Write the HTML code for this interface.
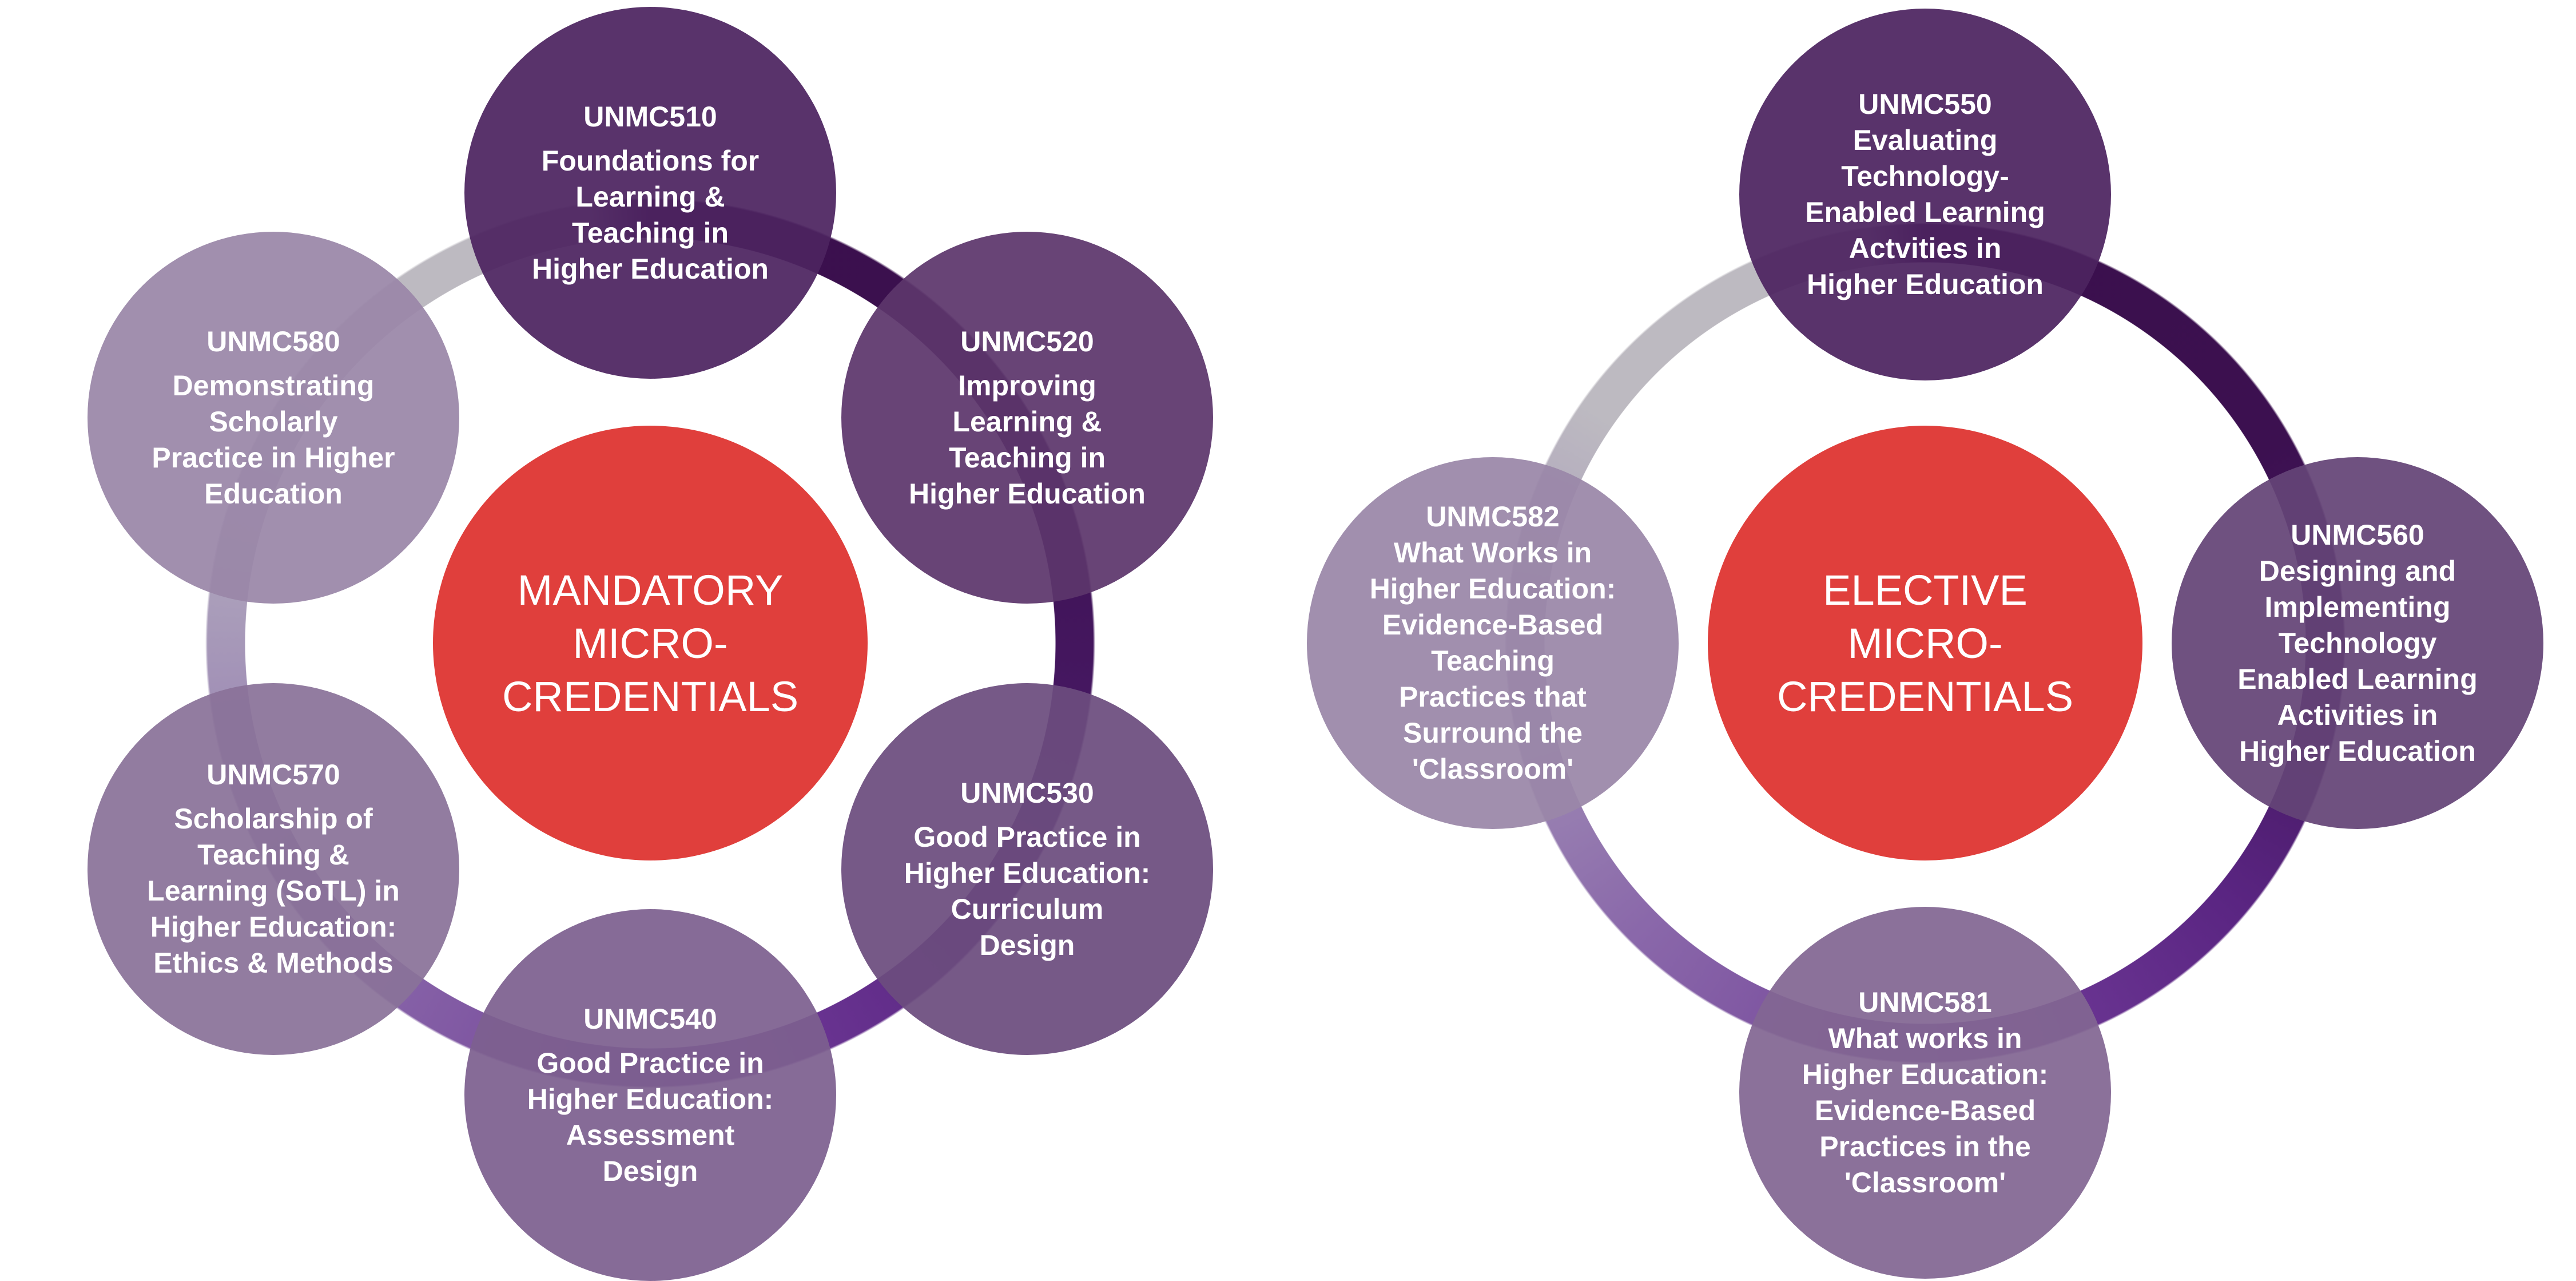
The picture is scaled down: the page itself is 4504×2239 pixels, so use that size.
<!DOCTYPE html>
<html><head><meta charset="utf-8"><style>
html,body{margin:0;padding:0;background:#fff;}
body{width:4504px;height:2173px;position:relative;overflow:hidden;font-family:"Liberation Sans",Arial,sans-serif;}
.ring{position:absolute;border-radius:50%;
background:conic-gradient(from 0deg,#3a0f4c 0deg,#3c1050 60deg,#461862 100deg,#5a2582 130deg,#6a3592 160deg,#8a68aa 225deg,#a596b8 268deg,#bdbac1 305deg,#bdbac1 352deg,#3a0f4c 360deg);
-webkit-mask:radial-gradient(circle closest-side,transparent calc(100% - 70px),#000 calc(100% - 69px),#000 99.5%,transparent 100%);
mask:radial-gradient(circle closest-side,transparent calc(100% - 70px),#000 calc(100% - 69px),#000 99.5%,transparent 100%);}
.c{position:absolute;width:650px;height:650px;border-radius:50%;display:flex;align-items:center;justify-content:center;text-align:center;color:#fff;font-weight:bold;font-size:50px;line-height:63px;}
.c span{display:block}
.c .code{margin-bottom:14px}
.r .code{margin-bottom:0}
.mid{position:absolute;width:760px;height:760px;border-radius:50%;background:#e03f3c;color:#fff;display:flex;align-items:center;justify-content:center;text-align:center;font-size:74px;line-height:93px;}
</style></head><body>
<div class="ring" style="left:359px;top:346px;width:1556px;height:1556px;"></div>
<div class="ring" style="left:2631px;top:389px;width:1470px;height:1470px;"></div>

<div class="mid" style="left:757px;top:744px;">MANDATORY<br>MICRO-<br>CREDENTIALS</div>
<div class="mid" style="left:2986px;top:744px;">ELECTIVE<br>MICRO-<br>CREDENTIALS</div>

<div class="c" style="left:812px;top:12px;background:rgba(76,36,96,0.93)"><div><span class="code">UNMC510</span>Foundations for<br>Learning &amp;<br>Teaching in<br>Higher Education</div></div>
<div class="c" style="left:1471px;top:405px;background:rgba(92,54,108,0.93)"><div><span class="code">UNMC520</span>Improving<br>Learning &amp;<br>Teaching in<br>Higher Education</div></div>
<div class="c" style="left:1471px;top:1194px;background:rgba(108,76,126,0.93)"><div><span class="code">UNMC530</span>Good Practice in<br>Higher Education:<br>Curriculum<br>Design</div></div>
<div class="c" style="left:812px;top:1589px;background:rgba(125,96,143,0.93)"><div><span class="code">UNMC540</span>Good Practice in<br>Higher Education:<br>Assessment<br>Design</div></div>
<div class="c" style="left:153px;top:1194px;background:rgba(138,114,153,0.93)"><div><span class="code">UNMC570</span>Scholarship of<br>Teaching &amp;<br>Learning (SoTL) in<br>Higher Education:<br>Ethics &amp; Methods</div></div>
<div class="c" style="left:153px;top:405px;background:rgba(154,134,168,0.93)"><div><span class="code">UNMC580</span>Demonstrating<br>Scholarly<br>Practice in Higher<br>Education</div></div>

<div class="c r" style="left:3041px;top:15px;background:rgba(76,36,96,0.93)"><div><span class="code">UNMC550</span>Evaluating<br>Technology-<br>Enabled Learning<br>Actvities in<br>Higher Education</div></div>
<div class="c r" style="left:3797px;top:799px;background:rgba(100,68,118,0.93)"><div><span class="code">UNMC560</span>Designing and<br>Implementing<br>Technology<br>Enabled Learning<br>Activities in<br>Higher Education</div></div>
<div class="c r" style="left:3041px;top:1585px;background:rgba(130,102,146,0.93)"><div><span class="code">UNMC581</span>What works in<br>Higher Education:<br>Evidence-Based<br>Practices in the<br>'Classroom'</div></div>
<div class="c r" style="left:2285px;top:799px;background:rgba(154,134,168,0.93)"><div><span class="code">UNMC582</span>What Works in<br>Higher Education:<br>Evidence-Based<br>Teaching<br>Practices that<br>Surround the<br>'Classroom'</div></div>
</body></html>
